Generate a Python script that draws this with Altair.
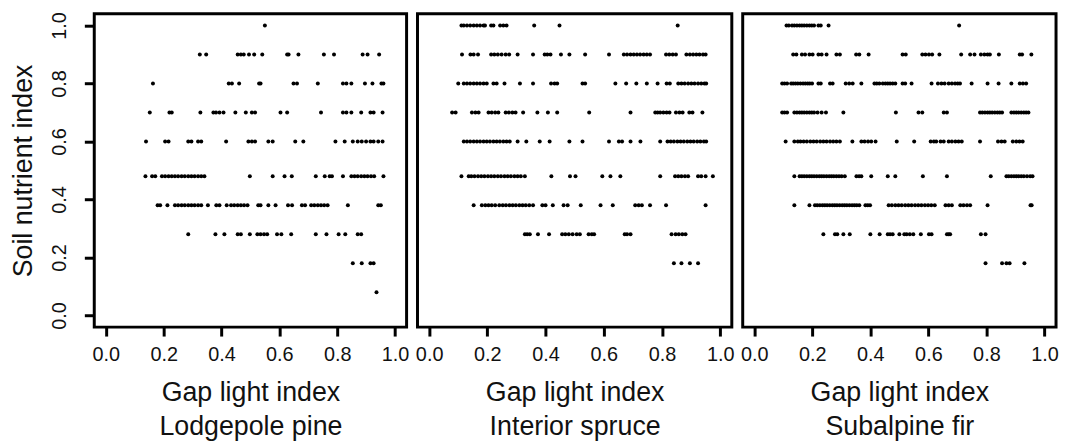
import altair as alt
import pandas as pd

# Soil nutrient index levels (y) and gap light index values (x) per level
TICKS = [0.0, 0.2, 0.4, 0.6, 0.8, 1.0]
LEVELS = [1.0, 0.9, 0.8, 0.7, 0.6, 0.48, 0.38, 0.28, 0.18, 0.08]

# Lodgepole pine
pine_100 = [0.55]
pine_090 = [0.325, 0.347, 0.456, 0.467, 0.477, 0.495, 0.513, 0.541, 0.627, 0.632, 0.666, 0.754, 0.789, 0.888, 0.905, 0.945]
pine_080 = [0.163, 0.425, 0.436, 0.461, 0.530, 0.535, 0.649, 0.661, 0.733, 0.820, 0.832, 0.849, 0.896, 0.922, 0.953, 0.960]
pine_070 = [0.152, 0.220, 0.228, 0.327, 0.372, 0.381, 0.393, 0.407, 0.448, 0.484, 0.505, 0.516, 0.604, 0.627, 0.744,
            0.820, 0.832, 0.849, 0.883, 0.915, 0.926, 0.957]
pine_060 = [0.139, 0.205, 0.217, 0.285, 0.296, 0.319, 0.330, 0.416, 0.493, 0.505, 0.516, 0.562, 0.577, 0.655, 0.683,
            0.794, 0.826, 0.854, 0.871, 0.885, 0.900, 0.915, 0.926, 0.942, 0.957]
pine_048 = [0.137, 0.160, 0.171, 0.194, 0.205, 0.217, 0.228, 0.239, 0.250, 0.262, 0.273, 0.285, 0.296, 0.307, 0.319,
            0.330, 0.341, 0.498, 0.577, 0.618, 0.643, 0.726, 0.757, 0.774, 0.782, 0.820, 0.849, 0.860, 0.871, 0.883,
            0.894, 0.905, 0.917, 0.928, 0.960]
pine_038 = [0.179, 0.188, 0.213, 0.239, 0.250, 0.262, 0.273, 0.285, 0.296, 0.307, 0.319, 0.330, 0.353, 0.382, 0.393,
            0.418, 0.433, 0.444, 0.456, 0.467, 0.478, 0.490, 0.527, 0.535, 0.562, 0.587, 0.630, 0.644, 0.678, 0.689,
            0.710, 0.721, 0.733, 0.744, 0.755, 0.767, 0.837, 0.942, 0.951]
pine_028 = [0.285, 0.379, 0.410, 0.456, 0.467, 0.498, 0.524, 0.535, 0.547, 0.558, 0.592, 0.607, 0.641, 0.726, 0.763,
            0.805, 0.828, 0.871, 0.883]
pine_018 = [0.854, 0.885, 0.915, 0.926]
pine_008 = [0.936]

# Interior spruce
spruce_100 = [0.111, 0.119, 0.130, 0.141, 0.153, 0.164, 0.175, 0.187, 0.192, 0.213, 0.221, 0.244, 0.255, 0.266, 0.361,
              0.448, 0.854]
spruce_090 = [0.113, 0.142, 0.153, 0.168, 0.213, 0.224, 0.236, 0.249, 0.263, 0.275, 0.304, 0.357, 0.397, 0.406, 0.417,
              0.453, 0.482, 0.536, 0.618, 0.669, 0.680, 0.692, 0.703, 0.714, 0.725, 0.737, 0.748, 0.759, 0.814, 0.825,
              0.837, 0.848, 0.884, 0.896, 0.907, 0.918, 0.929, 0.941, 0.950]
spruce_080 = [0.100, 0.119, 0.130, 0.141, 0.153, 0.164, 0.175, 0.187, 0.198, 0.221, 0.232, 0.259, 0.312, 0.357, 0.419,
              0.431, 0.440, 0.527, 0.536, 0.640, 0.677, 0.712, 0.748, 0.785, 0.816, 0.827, 0.856, 0.867, 0.878, 0.890,
              0.901, 0.912, 0.924, 0.935, 0.946, 0.952]
spruce_070 = [0.079, 0.091, 0.147, 0.159, 0.170, 0.204, 0.215, 0.227, 0.238, 0.263, 0.274, 0.286, 0.297, 0.323, 0.372,
              0.408, 0.440, 0.550, 0.692, 0.777, 0.785, 0.794, 0.805, 0.816, 0.826, 0.848, 0.860, 0.871, 0.894, 0.905,
              0.939]
spruce_060 = [0.119, 0.130, 0.141, 0.153, 0.164, 0.175, 0.187, 0.198, 0.209, 0.221, 0.232, 0.243, 0.255, 0.266, 0.277,
              0.304, 0.334, 0.380, 0.414, 0.482, 0.527, 0.618, 0.652, 0.663, 0.692, 0.726, 0.794, 0.819, 0.830, 0.841,
              0.853, 0.864, 0.875, 0.887, 0.898, 0.909, 0.921, 0.932, 0.944, 0.952]
spruce_048 = [0.111, 0.136, 0.145, 0.156, 0.168, 0.179, 0.190, 0.202, 0.213, 0.224, 0.236, 0.247, 0.259, 0.270, 0.281,
              0.293, 0.304, 0.315, 0.329, 0.420, 0.484, 0.503, 0.595, 0.623, 0.657, 0.794, 0.845, 0.856, 0.867, 0.879,
              0.890, 0.924, 0.935, 0.950, 0.975]
spruce_038 = [0.153, 0.181, 0.193, 0.204, 0.215, 0.227, 0.241, 0.253, 0.264, 0.276, 0.287, 0.298, 0.310, 0.321, 0.332,
              0.344, 0.357, 0.389, 0.400, 0.425, 0.462, 0.476, 0.521, 0.589, 0.631, 0.708, 0.720, 0.731, 0.759, 0.814,
              0.950]
spruce_028 = [0.329, 0.337, 0.346, 0.374, 0.412, 0.457, 0.468, 0.480, 0.493, 0.507, 0.518, 0.548, 0.559, 0.567, 0.672,
              0.680, 0.692, 0.833, 0.847, 0.858, 0.870, 0.881]
spruce_018 = [0.841, 0.867, 0.896, 0.924]
spruce_008 = []

# Subalpine fir
fir_100 = [0.111, 0.119, 0.130, 0.138, 0.147, 0.156, 0.164, 0.172, 0.181, 0.190, 0.198, 0.206, 0.221, 0.229, 0.256,
           0.706]
fir_090 = [0.134, 0.145, 0.164, 0.175, 0.190, 0.201, 0.221, 0.232, 0.249, 0.283, 0.295, 0.351, 0.362, 0.394, 0.511,
           0.522, 0.579, 0.590, 0.602, 0.613, 0.638, 0.713, 0.744, 0.759, 0.781, 0.793, 0.804, 0.812, 0.843, 0.915,
           0.923, 0.955]
fir_080 = [0.096, 0.104, 0.113, 0.127, 0.134, 0.142, 0.150, 0.159, 0.168, 0.176, 0.184, 0.191, 0.199, 0.221, 0.229,
           0.261, 0.270, 0.315, 0.327, 0.339, 0.369, 0.414, 0.422, 0.431, 0.443, 0.452, 0.460, 0.468, 0.477, 0.486,
           0.511, 0.520, 0.542, 0.611, 0.633, 0.645, 0.656, 0.670, 0.681, 0.692, 0.701, 0.709, 0.749, 0.804, 0.842,
           0.886, 0.915, 0.926, 0.937]
fir_070 = [0.096, 0.104, 0.113, 0.138, 0.147, 0.156, 0.164, 0.172, 0.181, 0.190, 0.198, 0.206, 0.218, 0.232, 0.247,
           0.307, 0.488, 0.566, 0.579, 0.653, 0.664, 0.778, 0.786, 0.795, 0.804, 0.812, 0.820, 0.829, 0.838, 0.846,
           0.854, 0.886, 0.895, 0.903, 0.911, 0.920, 0.929, 0.937, 0.945]
fir_060 = [0.108, 0.138, 0.150, 0.159, 0.170, 0.181, 0.193, 0.204, 0.215, 0.227, 0.238, 0.249, 0.261, 0.272, 0.283,
           0.295, 0.338, 0.369, 0.380, 0.392, 0.403, 0.418, 0.491, 0.551, 0.608, 0.619, 0.627, 0.642, 0.653, 0.670,
           0.681, 0.693, 0.704, 0.715, 0.778, 0.840, 0.852, 0.863, 0.891, 0.903, 0.914, 0.925]
fir_048 = [0.138, 0.156, 0.164, 0.172, 0.181, 0.190, 0.198, 0.206, 0.215, 0.224, 0.232, 0.240, 0.249, 0.258, 0.266,
           0.274, 0.283, 0.292, 0.301, 0.312, 0.352, 0.361, 0.369, 0.403, 0.460, 0.486, 0.581, 0.664, 0.815, 0.869,
           0.877, 0.886, 0.895, 0.903, 0.911, 0.920, 0.929, 0.940, 0.951, 0.959]
fir_038 = [0.138, 0.190, 0.209, 0.217, 0.226, 0.235, 0.243, 0.251, 0.260, 0.269, 0.277, 0.285, 0.294, 0.303, 0.311,
           0.319, 0.328, 0.337, 0.345, 0.353, 0.362, 0.383, 0.391, 0.399, 0.463, 0.474, 0.486, 0.497, 0.508, 0.520,
           0.531, 0.542, 0.554, 0.565, 0.576, 0.588, 0.599, 0.610, 0.622, 0.659, 0.670, 0.681, 0.710, 0.721, 0.733,
           0.744, 0.804, 0.952, 0.956]
fir_028 = [0.238, 0.278, 0.286, 0.307, 0.329, 0.400, 0.432, 0.460, 0.468, 0.477, 0.500, 0.517, 0.525, 0.536, 0.548,
           0.574, 0.602, 0.611, 0.664, 0.670, 0.675, 0.781, 0.797]
fir_018 = [0.797, 0.854, 0.869, 0.880, 0.931]
fir_008 = []

PINE = [pine_100, pine_090, pine_080, pine_070, pine_060, pine_048, pine_038, pine_028, pine_018, pine_008]
SPRUCE = [spruce_100, spruce_090, spruce_080, spruce_070, spruce_060, spruce_048, spruce_038, spruce_028,
          spruce_018, spruce_008]
FIR = [fir_100, fir_090, fir_080, fir_070, fir_060, fir_048, fir_038, fir_028, fir_018, fir_008]

SPECIES = ["Lodgepole pine", "Interior spruce", "Subalpine fir"]

FONT = "Liberation Sans"


def frame(rows):
    recs = []
    for level, xs in zip(LEVELS, rows):
        for x in xs:
            recs.append({"gli": x, "sni": level})
    return pd.DataFrame(recs)


def panel(rows, name, show_y, width):
    scale = alt.Scale(domain=[-0.04, 1.04], nice=False, zero=False)
    x = alt.X(
        "gli:Q",
        scale=scale,
        axis=alt.Axis(
            values=TICKS, format=".1f", title=["Gap light index", name],
            titleLineHeight=34, labelPadding=9, titlePadding=15,
            tickSize=9, labelFlush=False, labelOverlap=False,
        ),
    )
    if show_y:
        y = alt.Y(
            "sni:Q",
            scale=scale,
            axis=alt.Axis(
                values=TICKS, format=".1f", title="Soil nutrient index",
                labelAngle=270, labelAlign="center", labelBaseline="bottom",
                labelPadding=15, titlePadding=12, tickSize=10,
                labelFlush=False, labelOverlap=False, titleFontSize=27,
            ),
        )
    else:
        y = alt.Y("sni:Q", scale=scale, axis=None)
    return (
        alt.Chart(frame(rows))
        .mark_circle(size=16, color="black", opacity=1)
        .encode(x=x, y=y)
        .properties(width=width, height=316)
    )


chart = (
    alt.hconcat(
        panel(PINE, SPECIES[0], True, 315),
        panel(SPRUCE, SPECIES[1], False, 317),
        panel(FIR, SPECIES[2], False, 316),
        spacing=11,
        bounds="flush",
    )
    .properties(padding={"left": 0, "top": 0, "right": 0, "bottom": 0}, background="white")
    .configure_view(stroke="black", strokeWidth=3)
    .configure_axis(
        domain=False, grid=False, tickColor="black", tickWidth=3,
        labelFont=FONT, labelFontSize=20, labelColor="#111111",
        titleFont=FONT, titleFontSize=27, titleFontWeight="normal", titleColor="#111111",
    )
)

chart.save("out.html", embed_options={"renderer": "svg", "actions": False})
